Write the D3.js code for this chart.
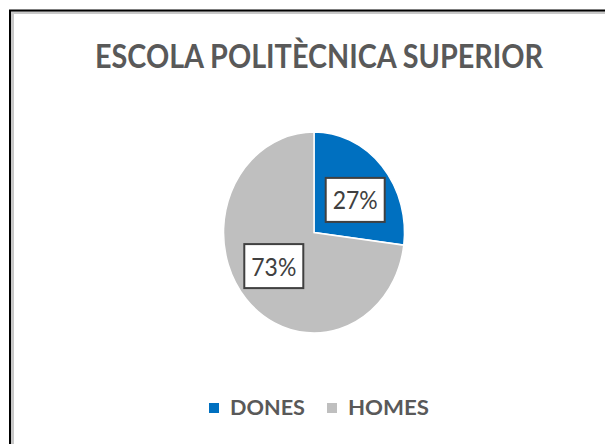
<!DOCTYPE html>
<html><head><meta charset="utf-8">
<script src="https://cdn.jsdelivr.net/npm/d3@7"></script>
<style>body{margin:0;background:#fff}svg{display:block}</style>
</head><body>
<svg id="c" width="605" height="444"></svg>
<script>
const categories = ["DONES", "HOMES"];
const values = [27, 73];
const labels = ["27%", "73%"];
const colors = ["#0070C0", "#BFBFBF"];
const title = "ESCOLA POLITÈCNICA SUPERIOR";

const svg = d3.select("#c");
const font = "Lato, 'Open Sans', sans-serif";

// frame
svg.append("rect").attr("x", 12.5).attr("y", 12.5).attr("width", 620).attr("height", 460)
  .attr("fill", "none").attr("stroke", "#c8c8c8").attr("stroke-width", 3);
svg.append("rect").attr("x", 10).attr("y", 10.5).attr("width", 620).attr("height", 460)
  .attr("fill", "none").attr("stroke", "#000").attr("stroke-width", 2);

// title
svg.append("text").attr("x", 319).attr("y", 68).attr("text-anchor", "middle")
  .attr("font-family", font).attr("font-weight", "bold").attr("font-size", 32)
  .attr("fill", "#595959").attr("textLength", 448).attr("lengthAdjust", "spacingAndGlyphs")
  .text(title);

// pie
const cx = 314, cy = 232.5, r = 100.5, sx = 0.9;
const pie = d3.pie().sort(null).value(d => d)(values);
const arc = d3.arc().innerRadius(0).outerRadius(r);
const labelArc = d3.arc().innerRadius(r * 0.6).outerRadius(r * 0.6);

const g = svg.append("g").attr("transform", `translate(${cx},${cy}) scale(${sx},1)`);
g.selectAll("path").data(pie).join("path")
  .attr("d", arc).attr("fill", (d, i) => colors[i])
  .attr("stroke", "#fff").attr("stroke-width", 1.6);

const lg = svg.append("g").attr("transform", `translate(${cx},${cy})`);
pie.forEach((d, i) => {
  const [x, y] = labelArc.centroid(d);
  const px = x * sx, py = y * 0.83;
  lg.append("rect").attr("x", px - 29).attr("y", py - 21.5).attr("width", 59).attr("height", 44)
    .attr("fill", "#fff").attr("stroke", "#404040").attr("stroke-width", 2);
  lg.append("text").attr("x", px + 0.5).attr("y", py + 10).attr("text-anchor", "middle")
    .attr("font-family", font).attr("font-size", 25).attr("fill", "#404040")
    .attr("textLength", 45).attr("lengthAdjust", "spacingAndGlyphs")
    .text(labels[i]);
});

// legend
const legX = [209, 327], legW = [75, 81];
categories.forEach((c, i) => {
  svg.append("rect").attr("x", legX[i]).attr("y", 403).attr("width", 10).attr("height", 10)
    .attr("fill", colors[i]);
  svg.append("text").attr("x", legX[i] + 21).attr("y", 415)
    .attr("font-family", font).attr("font-weight", "bold").attr("font-size", 21).attr("fill", "#595959")
    .attr("textLength", legW[i]).attr("lengthAdjust", "spacingAndGlyphs")
    .text(c);
});
</script>
</body></html>
